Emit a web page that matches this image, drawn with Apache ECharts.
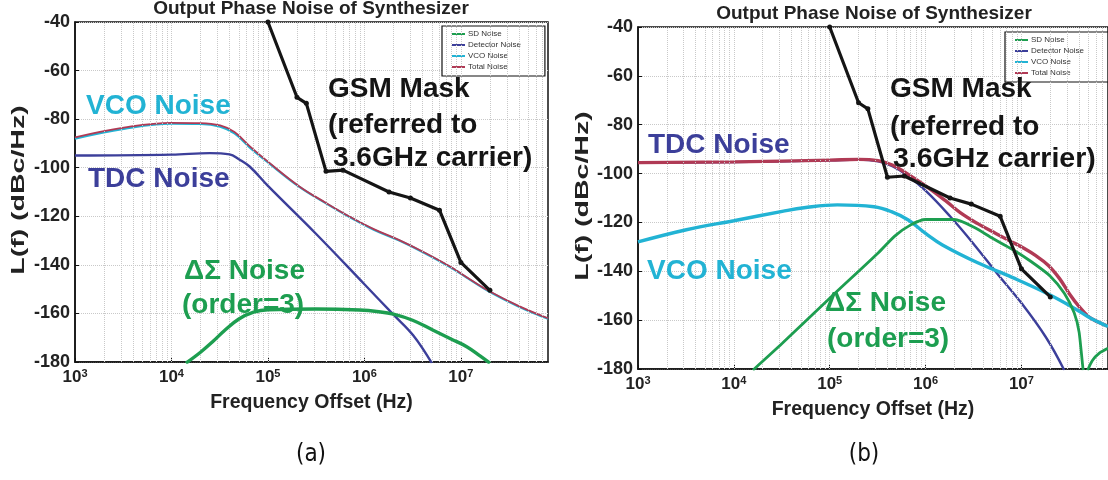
<!DOCTYPE html>
<html><head><meta charset="utf-8">
<script src="https://cdn.jsdelivr.net/npm/echarts/dist/echarts.min.js"></script>
<style>html,body{margin:0;padding:0;background:#fff}#c{width:1108px;height:480px}</style>
</head><body><div id="c"></div>
<script>
// ---------------- data ----------------
const legendNames = ['SD Noise', 'Detector Noise', 'VCO Noise', 'Total Noise'];

// GSM mask (same in both panels)
const gsmF = [1e5, 2e5, 2.5e5, 4e5, 6e5, 1.8e6, 3e6, 6e6, 1e7, 2e7];
const gsmL = [-40, -71, -73.5, -101.5, -101, -110, -112.5, -117.5, -139, -150.5];

// Panel (a)
const totalAF = [1e3, 3.2e3, 1e4, 2e4, 3.2e4, 4.5e4, 6.5e4, 1e5, 2.1e5, 4e5, 7e5, 1.25e6, 2.3e6, 4e6, 7.8e6, 1.25e7, 2e7, 4e7, 8e7];
const totalA  = [-87.5, -83.5, -81.5, -81.6, -82.6, -85.3, -91.2, -97.5, -107.6, -114.5, -120.1, -125.3, -129.8, -134.5, -140.8, -146, -151, -157, -162];
const vcoAF   = [1e3, 3.2e3, 1e4, 2e4, 3.2e4, 4.5e4, 6.5e4, 1e5, 2.1e5, 4e5, 7e5, 1.25e6, 2.3e6, 4e6, 7.8e6, 1.25e7, 2e7, 4e7, 8e7];
const vcoA    = [-88, -84, -81.9, -82, -83.1, -85.9, -91.7, -97.8, -107.8, -114.7, -120.3, -125.5, -130, -134.7, -141, -146.2, -151.2, -157.2, -162.2];
const tdcAF   = [1e3, 1e4, 2.5e4, 4e4, 5e4, 6.5e4, 1e5, 3.2e5, 1e6, 2e6, 3.2e6, 5e6];
const tdcA    = [-95, -94.6, -94, -94.5, -96.5, -99.6, -107.5, -127.5, -148, -160.5, -169, -180.5];
const sdAF    = [1.41e4, 2e4, 2.7e4, 3.55e4, 5e4, 7.1e4, 1e5, 3.16e5, 8.9e5, 1.41e6, 2e6, 3.16e6, 5.1e6, 7.9e6, 1.15e7, 1.58e7, 2e7];
const sdA     = [-180.5, -176, -171.5, -167, -162.3, -159.5, -158.5, -158.2, -158.6, -159.3, -160.3, -162.8, -166.8, -170.5, -173.7, -177.5, -180.5];

// Panel (b)
const totalBF = [1e3, 1e4, 1e5, 2e5, 3.2e5, 4.5e5, 6.3e5, 1e6, 1.6e6, 2.3e6, 3.5e6, 5.4e6, 8e6, 1.05e7, 1.4e7, 1.9e7, 2.5e7, 3.2e7, 4e7, 5e7, 6.3e7, 8e7];
const totalB  = [-95.5, -95.2, -94.5, -94.2, -94.7, -96.5, -99.8, -105, -111, -116, -120.5, -124.5, -128, -130.5, -133.5, -137.5, -143, -149.5, -154.5, -158.5, -160.8, -162.5];
const vcoBF   = [1e3, 3.2e3, 1e4, 3.2e4, 5.4e4, 1.2e5, 2.9e5, 4.4e5, 6.6e5, 1e6, 1.5e6, 3.5e6, 8e6, 1.9e7, 3.7e7, 5e7, 6.3e7, 8e7];
const vcoB    = [-128, -123, -119.3, -115.5, -114, -112.8, -113.6, -115.6, -119, -124.5, -129.2, -136.5, -142.5, -149.3, -155.5, -158.7, -160.7, -162.6];
const tdcBF   = [1e3, 1e4, 1e5, 2e5, 3.2e5, 4.5e5, 6.3e5, 1e6, 1.8e6, 3.2e6, 5.6e6, 1e7, 1.8e7, 2.8e7];
const tdcB    = [-95.5, -95.3, -94.6, -94.3, -95, -97, -100.5, -107, -117.5, -129, -141, -153, -167, -180.5];
const sdBF    = [1.58e4, 3.2e4, 1e5, 3.2e5, 4.8e5, 7e5, 1e6, 2e6, 3.2e6, 5e6, 8e6, 1.26e7, 2e7, 2.8e7, 3.55e7, 4e7, 4.4e7, 4.7e7, 4.9e7, 5.5e7, 6.5e7, 8e7];
const sdB     = [-180.5, -169.5, -151, -132.5, -125.5, -121, -118.8, -118.8, -122, -126.5, -131, -136, -142, -149, -157, -165, -180.5, null, -180.5, -176.5, -173.5, -171.5];

// minor grid positions (log decades)
const minorMult = [2, 3, 4, 5, 6, 7, 8, 9];
const decades = [1e3, 1e4, 1e5, 1e6, 1e7];

// ---------------- styling ----------------
const FF = '"Liberation Sans", Arial, Helvetica, sans-serif';
const C = { total: '#b03a55', vco: '#22b3d4', tdc: '#3c3f9a', sd: '#1d9e50', gsm: '#151515' };
const X_MIN = 1e3, X_MAX = 8e7;

function pts(f, v) { return f.map((x, i) => [x, v[i]]); }

const minorLines = [];
decades.forEach(d => minorMult.forEach(m => { const v = d * m; if (v < X_MAX) minorLines.push({ xAxis: v }); }));
decades.slice(1).forEach(d => minorLines.push({ xAxis: d }));

const grids = [
  { left: 75, top: 22, width: 473, height: 340 },
  { left: 638, top: 27, width: 473, height: 342 }
];

function xAxis(i) {
  return {
    type: 'log', logBase: 10, gridIndex: i, min: X_MIN, max: X_MAX,
    name: 'Frequency Offset (Hz)', nameLocation: 'middle', nameGap: 31,
    nameTextStyle: { fontFamily: FF, fontWeight: 'bold', fontSize: 19.5, color: '#222' },
    axisLine: { show: true, lineStyle: { color: '#111', width: 1.5 } },
    axisTick: { show: true, inside: true, length: 4, lineStyle: { color: '#111' } },
    minorTick: { show: false }, splitLine: { show: false },
    axisLabel: {
      showMaxLabel: false, margin: 6,
      formatter: v => '{b|10}{s|' + Math.round(Math.log10(v)) + '}',
      rich: {
        b: { fontFamily: FF, fontWeight: 'bold', fontSize: 17, lineHeight: 18, color: '#222', verticalAlign: 'bottom' },
        s: { fontFamily: FF, fontWeight: 'bold', fontSize: 11, lineHeight: 12, color: '#222', verticalAlign: 'top', padding: [0, 0, 8, 0] }
      }
    }
  };
}
function yAxis(i) {
  return {
    type: 'value', gridIndex: i, min: -180, max: -40, interval: 20,
    axisLine: { show: true, lineStyle: { color: '#111', width: 1.5 } },
    axisTick: { show: true, inside: true, length: 4, lineStyle: { color: '#111' } },
    axisLabel: { fontFamily: FF, fontWeight: 'bold', fontSize: 18, color: '#222', margin: 5 },
    splitLine: { show: true, lineStyle: { color: '#c9c9c9', type: 'dotted', width: 1 } }
  };
}

function line(name, f, v, color, width, g, z, sm) {
  return {
    type: 'line', name: name, xAxisIndex: g, yAxisIndex: g, data: pts(f, v),
    symbol: 'none', showSymbol: false, smooth: sm === undefined ? 0.4 : sm, connectNulls: false,
    lineStyle: { color: color, width: width }, itemStyle: { color: color }, z: z, animation: false
  };
}
function gsm(g) {
  return {
    type: 'line', name: 'GSM Mask', xAxisIndex: g, yAxisIndex: g, data: pts(gsmF, gsmL),
    symbol: 'circle', symbolSize: 5, showSymbol: true,
    lineStyle: { color: C.gsm, width: 3.2 }, itemStyle: { color: C.gsm }, z: 10, animation: false
  };
}
function gridSeries(g) {
  return {
    type: 'line', name: 'grid', xAxisIndex: g, yAxisIndex: g, data: [[X_MIN, -180]],
    symbol: 'none', lineStyle: { opacity: 0 }, z: 1, animation: false, silent: true,
    markLine: { silent: true, symbol: 'none', label: { show: false }, animation: false,
      lineStyle: { color: '#c9c9c9', type: 'dotted', width: 1 }, data: minorLines }
  };
}

const series = [
  gridSeries(0), gridSeries(1),
  // panel (a)
  line('VCO Noise', vcoAF, vcoA, C.vco, 2.2, 0, 3),
  line('Total Noise', totalAF, totalA, C.total, 1.8, 0, 4),
  line('Detector Noise', tdcAF, tdcA, C.tdc, 2.4, 0, 5),
  line('SD Noise', sdAF, sdA, C.sd, 3.4, 0, 6),
  gsm(0),
  // panel (b)
  line('Detector Noise', tdcBF, tdcB, C.tdc, 2.4, 1, 3),
  line('Total Noise', totalBF, totalB, C.total, 3.4, 1, 4),
  line('VCO Noise', vcoBF, vcoB, C.vco, 3.4, 1, 5),
  line('SD Noise', sdBF, sdB, C.sd, 2.8, 1, 6, 0.25),
  gsm(1)
];

function legend(left, top, w) {
  return {
    data: legendNames, orient: 'vertical', left: left, top: top, icon: 'rect',
    itemWidth: 13, itemHeight: 2, itemGap: 3, padding: [4, w, 5, 10],
    backgroundColor: '#fff', borderColor: '#111', borderWidth: 1.2, selectedMode: false,
    textStyle: { fontFamily: FF, fontSize: 8, color: '#333', padding: [0, 0, 0, -2] }
  };
}

function txt(s, x, y, color, size, align) {
  return { type: 'text', x: x, y: y, z: 100, silent: true,
    style: { text: s, fill: color, font: 'bold ' + size + 'px ' + FF,
      textAlign: align || 'left', align: align || 'left', textVerticalAlign: 'middle', verticalAlign: 'middle' } };
}
function yName(x, y) {
  return { type: 'text', x: x, y: y, z: 100, silent: true, rotation: Math.PI / 2, scaleX: 1.5,
    style: { text: 'L(f) (dBc/Hz)', fill: '#222', font: 'bold 19px ' + FF,
      textAlign: 'center', align: 'center', textVerticalAlign: 'middle', verticalAlign: 'middle' } };
}

const graphics = [
  txt('Output Phase Noise of Synthesizer', 311, 9, '#222', 19, 'center'),
  txt('Output Phase Noise of Synthesizer', 874, 14, '#222', 19, 'center'),
  yName(19, 190), yName(583, 196),
  txt('VCO Noise', 86, 106, C.vco, 28),
  txt('TDC Noise', 88, 179, C.tdc, 28),
  txt('ΔΣ Noise', 184, 271, C.sd, 28),
  txt('(order=3)', 182, 305, C.sd, 28),
  txt('GSM Mask', 328, 89, '#151515', 28),
  txt('(referred to', 328, 125, '#151515', 28),
  txt('3.6GHz carrier)', 333, 158, '#151515', 28),
  txt('TDC Noise', 648, 145, C.tdc, 28),
  txt('VCO Noise', 647, 271, C.vco, 28),
  txt('ΔΣ Noise', 825, 303, C.sd, 28),
  txt('(order=3)', 827, 339, C.sd, 28),
  txt('GSM Mask', 890, 89, '#151515', 28),
  txt('(referred to', 890, 127, '#151515', 28),
  txt('3.6GHz carrier)', 893, 159, '#151515', 28.5),
  { type: 'text', x: 311, y: 455, style: { text: '(a)', fill: '#111', font: '24px "Liberation Sans Narrow", "DejaVu Sans Condensed", sans-serif', textAlign: 'center', align: 'center', textVerticalAlign: 'middle', verticalAlign: 'middle' } },
  { type: 'text', x: 864, y: 455, style: { text: '(b)', fill: '#111', font: '24px "Liberation Sans Narrow", "DejaVu Sans Condensed", sans-serif', textAlign: 'center', align: 'center', textVerticalAlign: 'middle', verticalAlign: 'middle' } }
];

const chart = echarts.init(document.getElementById('c'), null, { renderer: 'canvas' });
chart.setOption({
  backgroundColor: '#fff', animation: false,
  grid: grids.map(g => Object.assign({ show: true, borderColor: '#111', borderWidth: 1.5, backgroundColor: 'transparent', containLabel: false }, g)),
  xAxis: [xAxis(0), xAxis(1)],
  yAxis: [yAxis(0), yAxis(1)],
  legend: [legend(442, 26, 24), legend(1005, 32, 24)],
  series: series,
  graphic: graphics
});
</script></body></html>
